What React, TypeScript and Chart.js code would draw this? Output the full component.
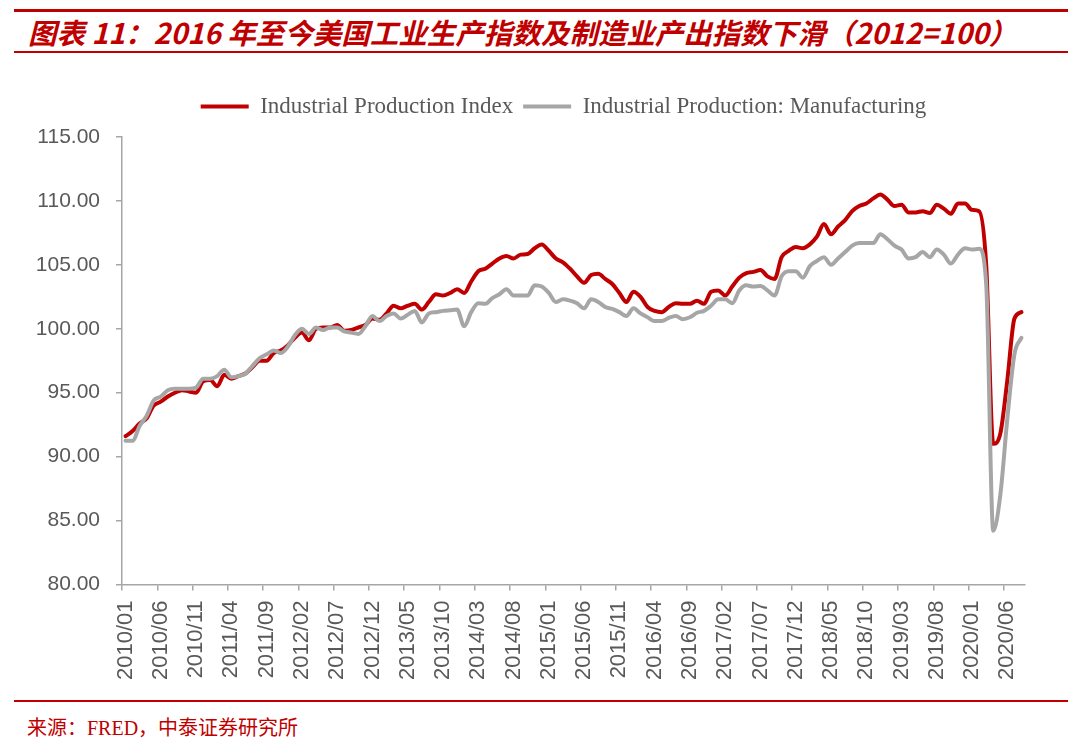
import React, { useEffect, useRef } from 'react';
import { Chart, registerables } from 'chart.js';

Chart.register(...registerables);

// Monthly categories 2010/01 – 2020/08
const startYear = 2010;
const monthCount = 128;
const months: string[] = Array.from({ length: monthCount }, (_, i) => {
  const y = startYear + Math.floor(i / 12);
  const m = (i % 12) + 1;
  return `${y}/${m < 10 ? '0' + m : m}`;
});

// Industrial Production Index (2012=100)
const ipIndex: number[] = [
  91.6, 92.0, 92.6, 93.0, 94.0, 94.3, 94.7, 95.0, 95.2, 95.1,
  95.0, 95.9, 96.0, 95.5, 96.4, 96.1, 96.3, 96.5, 97.0, 97.5,
  97.5, 98.1, 98.3, 98.7, 99.3, 99.7, 99.1, 100.0, 100.1, 100.1,
  100.3, 99.85, 99.9, 100.1, 100.3, 100.8, 100.7, 101.2, 101.8, 101.6,
  101.8, 101.95, 101.5, 102.1, 102.7, 102.6, 102.8, 103.1, 102.8, 103.7,
  104.5, 104.7, 105.1, 105.5, 105.7, 105.5, 105.8, 105.85, 106.3, 106.6,
  106.1, 105.5, 105.2, 104.7, 104.1, 103.6, 104.2, 104.3, 103.9, 103.5,
  102.8, 102.1, 102.9, 102.5, 101.7, 101.4, 101.3, 101.7, 102.0, 101.95,
  101.95, 102.2, 101.95, 102.9, 103.0, 102.6, 103.3, 104.0, 104.35, 104.45,
  104.6, 104.1, 103.9, 105.6, 106.1, 106.4, 106.3, 106.6, 107.2, 108.2,
  107.4, 108.0, 108.5, 109.2, 109.6, 109.8, 110.2, 110.5, 110.1, 109.6,
  109.7, 109.1, 109.1, 109.2, 109.05, 109.7, 109.4, 109.0, 109.8, 109.8,
  109.3, 109.2, 105.0, 91.0, 91.8, 96.0, 100.8, 101.3,
];

// Industrial Production: Manufacturing (2012=100)
const ipManufacturing: number[] = [
  91.25, 91.25, 92.4, 93.2, 94.4, 94.7, 95.2, 95.3, 95.3, 95.3,
  95.4, 96.1, 96.1, 96.3, 96.8, 96.2, 96.3, 96.5, 97.1, 97.7,
  98.0, 98.3, 98.1, 98.6, 99.5, 100.0, 99.6, 100.1, 99.9, 100.1,
  100.1, 99.8, 99.7, 99.6, 100.2, 101.0, 100.6, 101.0, 101.2, 100.8,
  101.1, 101.4, 100.5, 101.2, 101.3, 101.4, 101.45, 101.5, 100.2, 101.3,
  102.0, 101.95, 102.4, 102.7, 103.1, 102.6, 102.6, 102.6, 103.4, 103.3,
  102.8, 102.1, 102.3, 102.2, 102.0, 101.6, 102.3, 102.1, 101.7, 101.55,
  101.3, 101.0, 101.6, 101.2, 100.9, 100.6, 100.6, 100.85, 101.0, 100.75,
  100.9, 101.25, 101.4, 101.8, 102.3, 102.3, 102.0, 103.0, 103.4, 103.3,
  103.35, 103.0, 102.6, 104.1, 104.5, 104.5, 104.0, 104.9, 105.3, 105.6,
  105.0, 105.5, 106.0, 106.5, 106.7, 106.7, 106.7, 107.4, 107.0, 106.5,
  106.2, 105.5, 105.6, 106.0, 105.6, 106.2, 105.8, 105.1, 105.8, 106.3,
  106.2, 106.25, 103.5, 84.2, 87.0, 93.0, 98.0, 99.3,
];

const seriesNames: string[] = ['Industrial Production Index', 'Industrial Production: Manufacturing'];
const labelEvery = 5;

const RED = '#C00000';
const GRAY = '#A6A6A6';
const AXIS = '#A6A6A6';
const TEXT = '#595959';

// Legend placement tweaks: extra gap below the legend, and horizontal shift
const legendTweaks = {
  id: 'legendTweaks',
  beforeLayout(chart: any) {
    const lg = chart.legend;
    if (lg && !lg._gapPatched) {
      const fit = lg.fit;
      lg.fit = function () {
        fit.call(this);
        this.height += 9;
      };
      lg._gapPatched = true;
    }
  },
  afterLayout(chart: any) {
    const lg = chart.legend;
    if (lg) {
      lg.left += 51;
      lg.right += 51;
    }
  },
};

export default function App() {
  const ref = useRef<HTMLCanvasElement>(null);

  useEffect(() => {
    document.body.style.margin = '0';
    const chart = new Chart(ref.current as HTMLCanvasElement, {
      type: 'line',
      data: {
        labels: months,
        datasets: [
          {
            label: seriesNames[0],
            data: ipIndex,
            borderColor: RED,
            backgroundColor: RED,
            borderWidth: 4,
            pointRadius: 0,
            borderCapStyle: 'round',
            borderJoinStyle: 'round',
            cubicInterpolationMode: 'monotone',
            order: 1,
          },
          {
            label: seriesNames[1],
            data: ipManufacturing,
            borderColor: GRAY,
            backgroundColor: GRAY,
            borderWidth: 4,
            pointRadius: 0,
            borderCapStyle: 'round',
            borderJoinStyle: 'round',
            cubicInterpolationMode: 'monotone',
            order: 0,
          },
        ],
      },
      plugins: [legendTweaks],
      options: {
        animation: false,
        responsive: false,
        maintainAspectRatio: false,
        layout: { padding: { left: 0, right: 55, top: 25, bottom: 10 } },
        plugins: {
          legend: {
            position: 'top',
            labels: {
              usePointStyle: true,
              pointStyle: 'line',
              pointStyleWidth: 48,
              boxHeight: 4,
              padding: 10,
              color: TEXT,
              font: { family: '"Liberation Serif", serif', size: 23 },
              sort: (a: any, b: any) => a.datasetIndex - b.datasetIndex,
            },
          },
          tooltip: { enabled: false },
        },
        scales: {
          x: {
            type: 'category',
            offset: true,
            grid: {
              offset: true,
              drawOnChartArea: false,
              drawTicks: true,
              tickLength: 6,
              lineWidth: 1.5,
              color: (c: any) => (c.index % labelEvery === 0 ? AXIS : 'rgba(0,0,0,0)'),
            },
            border: { color: AXIS, width: 1.5 },
            ticks: {
              autoSkip: false,
              minRotation: 90,
              maxRotation: 90,
              padding: 10,
              color: TEXT,
              font: { family: '"Liberation Sans", Arial, sans-serif', size: 22 },
              callback: (_v: any, i: number) => (i % labelEvery === 0 ? months[i] : ''),
            },
          },
          y: {
            min: 80,
            max: 115,
            afterFit: (s: any) => {
              s.width = 122;
            },
            grid: {
              drawOnChartArea: false,
              drawTicks: true,
              tickLength: 6,
              lineWidth: 1.5,
              color: AXIS,
            },
            border: { color: AXIS, width: 1.5 },
            ticks: {
              stepSize: 5,
              padding: 16,
              color: TEXT,
              font: { family: '"Liberation Sans", Arial, sans-serif', size: 21 },
              callback: (v: any) => Number(v).toFixed(2),
            },
          },
        },
      },
    } as any);
    return () => chart.destroy();
  }, []);

  const line = (top: number, h: number): React.CSSProperties => ({
    position: 'absolute',
    left: 14,
    width: 1054,
    top,
    height: h,
    background: RED,
  });

  return (
    <div style={{ position: 'absolute', left: 0, top: 0, width: 1080, height: 748, background: '#fff', overflow: 'hidden' }}>
      <div style={line(9, 3)} />
      <div
        style={{
          position: 'absolute',
          left: 28,
          top: 14,
          fontFamily: '"Noto Sans CJK SC", sans-serif',
          fontWeight: 'bold',
          fontStyle: 'italic',
          fontSize: 28.5,
          lineHeight: '36px',
          color: RED,
          whiteSpace: 'nowrap',
        }}
      >
        图表 11：2016 年至今美国工业生产指数及制造业产出指数下滑（2012=100）
      </div>
      <div style={line(51, 2)} />
      <canvas
        ref={ref}
        width={1080}
        height={640}
        style={{ position: 'absolute', left: 0, top: 60, width: 1080, height: 640 }}
      />
      <div style={line(700, 2)} />
      <div
        style={{
          position: 'absolute',
          left: 27,
          top: 715,
          fontFamily: '"Liberation Serif", "Noto Sans CJK SC", serif',
          fontSize: 20,
          lineHeight: '26px',
          color: RED,
          whiteSpace: 'nowrap',
        }}
      >
        来源：FRED，中泰证券研究所
      </div>
    </div>
  );
}
